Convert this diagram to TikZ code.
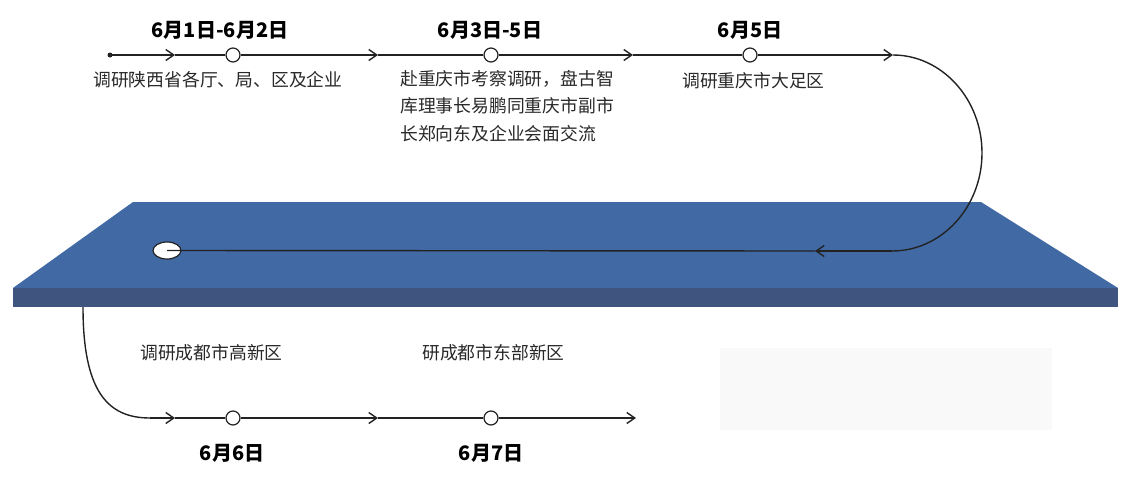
\documentclass[tikz,border=0pt]{standalone}
\usepackage{fontspec}
\setmainfont{Noto Sans CJK SC}
\usetikzlibrary{arrows.meta,shapes.geometric}
\definecolor{topface}{RGB}{65,106,165}
\definecolor{frontface}{RGB}{63,84,127}
\definecolor{linec}{RGB}{34,34,34}
\definecolor{txt}{RGB}{40,40,40}
\definecolor{boxc}{RGB}{249,249,249}
\tikzset{
  path/.style={draw=linec,line width=1.4pt},
  tip/.style={path,-{Straight Barb[length=8pt,width=11pt,line width=1.4pt]}},
  station/.style={circle,draw=linec,fill=white,line width=1.2pt,minimum size=14pt,inner sep=0pt},
  date/.style={font=\fontsize{20}{22}\selectfont\bfseries,text=black,inner sep=0pt},
  desc/.style={font=\fontsize{17.8}{27.5}\selectfont,text=txt,inner sep=0pt,anchor=west,align=left},
}
\begin{document}
\begin{tikzpicture}[x=1pt,y=-1pt]
\useasboundingbox (0,0) rectangle (1125,477);
% platform
\fill[topface] (133,202) -- (981,202) -- (1118,288) -- (13,288) -- cycle;
\fill[frontface] (13,288) rectangle (1118,307);
% light box
\fill[boxc] (720,348) rectangle (1052,430);
% top route
\coordinate (s) at (110,55);
\coordinate (a1) at (175,55);
\node[station] (c1) at (233,55) {};
\coordinate (a2) at (378,55);
\node[station] (c2) at (491,55) {};
\coordinate (a3) at (633,55);
\node[station] (c3) at (750,55) {};
\coordinate (a4) at (893,55);
\coordinate (r) at (982,153);
\coordinate (b0) at (892,251);
\coordinate (b1) at (815,251);
\fill[linec] (s) circle (2.5pt);
\draw[tip] (s) -- (a1);
\draw[path] (a1) -- (c1);
\draw[tip] (c1) -- (a2);
\draw[path] (a2) -- (c2);
\draw[tip] (c2) -- (a3);
\draw[path] (a3) -- (c3);
\draw[tip] (c3) -- (a4);
\draw[path] (a4) .. controls (941.7,55) and (982,98.9) .. (r)
               .. controls (982,207.1) and (941.7,251) .. (b0);
\draw[tip] (b0) -- (b1);
\node[ellipse,draw=linec,fill=white,line width=1.2pt,minimum width=28pt,minimum height=17pt,inner sep=0pt] (hole) at (167,250.5) {};
\draw[path] (b1) -- (hole.center);
% bottom route
\coordinate (p) at (83,307);
\coordinate (q) at (150,418);
\coordinate (d1) at (175,418);
\node[station] (e1) at (233,418) {};
\coordinate (d2) at (378,418);
\node[station] (e2) at (491,418) {};
\coordinate (d3) at (636,418);
\draw[path] (p) .. controls (83,392) and (108,418) .. (q);
\draw[tip] (q) -- (d1);
\draw[path] (d1) -- (e1);
\draw[tip] (e1) -- (d2);
\draw[path] (d2) -- (e2);
\draw[tip] (e2) -- (d3);
% dates
\node[date] (t1) at (220,30) {6月1日-6月2日};
\node[date] (t2) at (490,30) {6月3日-5日};
\node[date] (t3) at (750,30) {6月5日};
\node[date] (t4) at (232,453) {6月6日};
\node[date] (t5) at (491,453) {6月7日};
% descriptions
\node[desc] (l1) at (93,80) {调研陕西省各厅、局、区及企业};
\node[desc,anchor=north west] (l2) at (400,70) {赴重庆市考察调研，盘古智\\库理事长易鹏同重庆市副市\\长郑向东及企业会面交流};
\node[desc] (l3) at (682,81) {调研重庆市大足区};
\node[desc] (l4) at (140,353) {调研成都市高新区};
\node[desc] (l5) at (422,353) {研成都市东部新区};
\end{tikzpicture}
\end{document}
